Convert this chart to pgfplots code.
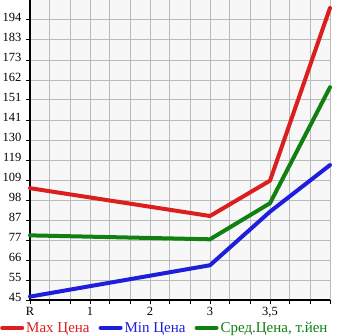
\documentclass[border=0pt]{standalone}
\usepackage{fontspec}
\setmainfont{Liberation Serif}
\usepackage{pgfplots}
\pgfplotsset{compat=1.18}
\definecolor{cmax}{RGB}{220,30,30}
\definecolor{cmin}{RGB}{30,30,220}
\definecolor{cavg}{RGB}{16,128,16}
\definecolor{gridc}{RGB}{187,187,187}
\definecolor{bgc}{RGB}{247,247,247}
\begin{document}
\begin{tikzpicture}[x=1pt,y=1pt]
\useasboundingbox (-30,-35) rectangle (315,300);
\begin{axis}[
  at={(0,0)}, anchor=south west,
  width=300pt, height=300pt, scale only axis,
  xmin=0, xmax=5, ymin=45, ymax=204.643,
  axis x line*=bottom, axis y line*=left,
  axis line style={line width=2pt, -},
  axis background/.style={fill=bgc},
  xtick={0,1,2,3,4,5},
  xticklabels={R,1,2,3,{3,5},{}},
  minor xtick={0.3333,0.6667,1.3333,1.6667,2.3333,2.6667,3.3333,3.6667,4.3333,4.6667},
  ytick={45,55.643,66.286,76.929,87.571,98.214,108.857,119.5,130.143,140.786,151.429,162.071,172.714,183.357,194},
  yticklabels={45,55,66,77,87,98,109,119,130,141,151,162,173,183,194},
  grid=both,
  major grid style={gridc, line width=1pt},
  minor grid style={gridc, line width=1pt},
  tick align=outside,
  major tick length=4pt, minor tick length=4pt,
  tick style={black, line width=1pt},
  /pgf/number format/assume math mode=true,
  ticklabel style={font=\fontsize{12.5}{13}\selectfont},
  yticklabel style={yshift=3pt, xshift=-1pt},
  xticklabel style={yshift=0pt},
  clip=false,
  legend columns=3,
  legend style={at={(axis description cs:-0.1,-0.093)}, anchor=west, draw=none, fill=none,
    inner sep=0pt, font=\fontsize{15}{16}\selectfont,
    /tikz/every even column/.append style={column sep=7pt}},
  legend cell align=left,
  legend image code/.code={\draw[#1, line width=4pt, line cap=round] (2pt,0pt) -- (22pt,0pt);},
  every axis plot/.append style={line width=4pt, line join=round, line cap=round},
]
\addplot[cmax] coordinates {(0,104.5) (3,89.7) (4,108.5) (5,200.4)};
\addlegendentry{\textcolor{cmax}{Max Цена}}
\addplot[cmin] coordinates {(0,46.8) (3,63.5) (4,92) (5,116.8)};
\addlegendentry{\textcolor{cmin}{Min Цена}}
\addplot[cavg] coordinates {(0,79.4) (3,77.3) (4,96.5) (5,158.2)};
\addlegendentry{\textcolor{cavg}{Сред.Цена, т.йен}}
\end{axis}
\end{tikzpicture}
\end{document}
